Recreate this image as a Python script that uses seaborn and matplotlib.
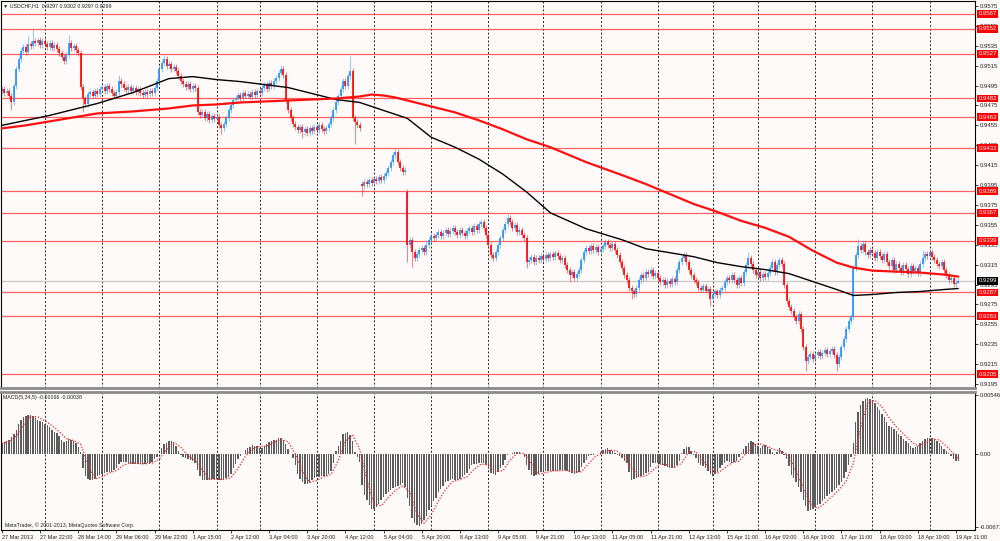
import numpy as np
import matplotlib
matplotlib.use("Agg")
import matplotlib.pyplot as plt
import matplotlib.transforms as mtransforms
import seaborn as sns

# H1 closes, in pips (9492 -> 0.9492)
close_pips = [
    9492, 9488, 9490, 9485, 9478, 9495, 9512, 9522, 9530, 9534,
    9529, 9537, 9535, 9540, 9538, 9541, 9536, 9540, 9537, 9534,
    9538, 9533, 9536, 9532, 9528, 9524, 9520, 9526, 9538, 9533,
    9535, 9531, 9528, 9494, 9482, 9476, 9487, 9489, 9485, 9490,
    9487, 9492, 9494, 9490, 9495, 9492, 9488, 9485, 9489, 9500,
    9497, 9493, 9491, 9494, 9490, 9493, 9489, 9492, 9488, 9486,
    9489, 9487, 9490, 9488, 9493, 9500, 9512, 9518, 9522, 9515,
    9517, 9512, 9514, 9510, 9505, 9500, 9497, 9494, 9497, 9492,
    9495, 9493, 9468, 9465, 9468, 9462, 9466, 9460, 9464, 9461,
    9463, 9455, 9452, 9456, 9462, 9470, 9475, 9480, 9483, 9486,
    9482, 9488, 9485, 9487, 9484, 9489, 9486, 9490, 9488, 9493,
    9496, 9492, 9498, 9495, 9500, 9503, 9508, 9512, 9506, 9480,
    9470, 9462, 9456, 9453, 9450, 9453, 9448, 9451, 9447, 9452,
    9449, 9453, 9450, 9455, 9451, 9449, 9452, 9456, 9462, 9470,
    9478, 9485, 9492, 9500, 9495, 9505, 9510, 9462, 9458, 9455,
    9452, 9394, 9398, 9396, 9400, 9397, 9401, 9399, 9403, 9400,
    9404, 9407, 9412, 9418, 9425, 9428, 9418, 9412, 9408, 9410,
    9335, 9340, 9328, 9322, 9326, 9330, 9332, 9328, 9335, 9340,
    9344, 9342, 9345, 9348, 9344, 9347, 9350, 9346, 9349, 9352,
    9348, 9345, 9350, 9347, 9344, 9349, 9352, 9348, 9354, 9350,
    9356, 9358, 9352, 9345, 9335, 9325, 9322, 9328, 9335, 9342,
    9350, 9356, 9362, 9358, 9352, 9355, 9348, 9350, 9345, 9342,
    9318, 9320, 9323, 9318, 9322, 9320, 9324, 9321, 9325, 9322,
    9326, 9323, 9327, 9324, 9320, 9322, 9315, 9310, 9305, 9308,
    9302, 9306, 9310, 9320, 9328, 9332, 9329, 9334, 9330, 9333,
    9328, 9331, 9334, 9338, 9335, 9332, 9336, 9330, 9325, 9318,
    9312, 9305, 9300, 9292, 9288, 9285, 9292, 9300, 9305, 9302,
    9308, 9306, 9310, 9304, 9307, 9302, 9298, 9300, 9295, 9299,
    9296, 9301, 9298, 9310, 9318, 9322, 9325, 9318, 9310, 9305,
    9300, 9298, 9292, 9290, 9294, 9289, 9291, 9280, 9285, 9288,
    9284, 9290, 9292, 9298, 9302, 9300, 9305, 9300, 9295, 9302,
    9297, 9308, 9315, 9322, 9316, 9310, 9305, 9308, 9302, 9306,
    9303, 9307, 9312, 9318, 9308, 9315, 9320, 9316, 9295, 9278,
    9272, 9268, 9262, 9258, 9265, 9250, 9232, 9218, 9222, 9225,
    9220, 9224, 9227, 9223, 9226, 9229, 9225, 9228, 9230, 9224,
    9215, 9222, 9232, 9240, 9250, 9258, 9262, 9312, 9325, 9334,
    9330, 9336, 9328, 9325, 9330, 9327, 9322, 9328, 9324, 9320,
    9326, 9318, 9314, 9320, 9310, 9316, 9312, 9308, 9315, 9311,
    9306, 9314, 9309, 9312, 9307, 9316, 9322, 9326, 9324, 9328,
    9323, 9320, 9316, 9314, 9318, 9310, 9305, 9300, 9302, 9296,
    9297, 9299,
]
first_open = 9490
gap_opens = {151: 9396, 170: 9388}
spike_high = {11: 9545, 13: 9552, 28: 9546, 49: 9506, 68: 9526, 117: 9516,
              146: 9525, 165: 9432, 212: 9366, 313: 9328, 359: 9341, 361: 9340,
              386: 9330, 401: 9302}
spike_low = {4: 9470, 34: 9468, 92: 9446, 126: 9442, 148: 9436, 151: 9384,
             170: 9318, 172: 9313, 220: 9312, 238: 9298, 264: 9280, 297: 9273,
             337: 9208, 350: 9208, 401: 9297}
wick = 3

# moving averages (black, red) sampled along the bars
ma_bars = [0, 10, 20, 30, 40, 55, 70, 80, 90, 100, 120, 140, 150, 155, 160, 165,
           170, 180, 190, 200, 210, 220, 230, 245, 260, 270, 280, 290, 300, 310,
           320, 330, 340, 350, 357, 365, 375, 385, 395, 401]
ma_black = [9455, 9460, 9465, 9471, 9477, 9488, 9502, 9504, 9501, 9499, 9493, 9481,
            9478, 9474, 9470, 9466, 9462, 9443, 9433, 9421, 9406, 9388, 9367, 9351,
            9340, 9331, 9327, 9323, 9317, 9313, 9310, 9306, 9298, 9290, 9284, 9285,
            9287, 9288, 9290, 9291]
ma_red = [9452, 9455, 9459, 9463, 9467, 9469, 9472, 9475, 9476, 9478, 9480, 9482,
          9484, 9486, 9485, 9483, 9480, 9474, 9468, 9460, 9451, 9441, 9433, 9418,
          9405, 9396, 9386, 9376, 9368, 9359, 9352, 9343, 9329, 9317, 9312, 9309,
          9308, 9307, 9305, 9303]

levels = [9567, 9552, 9527, 9482, 9463, 9432, 9389, 9367, 9339, 9287, 9263, 9205]
last_price = 9299

# MACD(5,34,5) main, in 1e-5
macd_e5 = [
    107, 115, 125, 135, 160, 190, 225, 275, 320, 345,
    355, 362, 360, 350, 335, 320, 308, 296, 282, 265,
    250, 222, 205, 192, 172, 130, 110, 120, 145, 135,
    125, 108, 70, 20, -129, -200, -232, -240, -238, -228,
    -205, -192, -178, -170, -166, -160, -160, -145, -125, -90,
    -75, -72, -75, -80, -86, -88, -88, -90, -90, -88,
    -88, -85, -82, -68, -48, -30, 0, 60, 92, 107,
    120, 118, 105, 80, 30, -10, -25, -35, -42, -52,
    -62, -85, -150, -200, -238, -240, -242, -238, -230, -226,
    -224, -240, -242, -235, -222, -210, -180, -130, -90, -45,
    -15, 5, 40, 55, 68, 85, 80, 72, 55, 62,
    78, 97, 114, 125, 130, 132, 150, 150, 132, 95,
    50, 5, -35, -100, -180, -225, -256, -275, -278, -262,
    -240, -222, -208, -207, -202, -200, -198, -180, -155, -80,
    30, 80, 120, 185, 200, 205, 180, 125, 20, -30,
    -70, -280, -380, -420, -470, -505, -505, -488, -460, -425,
    -395, -365, -345, -328, -315, -305, -290, -282, -270, -300,
    -400, -480, -590, -630, -650, -662, -640, -605, -570, -515,
    -465, -430, -400, -350, -320, -295, -260, -245, -236, -228,
    -235, -236, -228, -210, -190, -175, -132, -100, -94, -90,
    -84, -82, -85, -97, -140, -170, -185, -192, -165, -130,
    -95, -50, -10, 6, 13, 17, 19, 22, 5, -30,
    -97, -150, -195, -205, -192, -178, -162, -158, -155, -154,
    -154, -154, -153, -152, -148, -144, -150, -156, -160, -172,
    -185, -175, -160, -120, -82, -50, -20, -10, -4, 0,
    5, 20, 35, 48, 53, 40, 28, 12, -3, -20,
    -35, -60, -82, -160, -238, -230, -223, -207, -200, -192,
    -176, -160, -120, -85, -82, -82, -88, -95, -105, -118,
    -129, -130, -128, -100, -66, 10, 45, 66, 66, 30,
    -10, -35, -80, -95, -110, -130, -155, -180, -198, -180,
    -160, -130, -97, -80, -66, -72, -82, -75, -66, -30,
    13, 45, 75, 100, 122, 112, 97, 80, 60, 72,
    85, 65, 44, 20, -3, 25, 53, 30, -3, -40,
    -110, -192, -220, -254, -300, -348, -420, -474, -521, -515,
    -508, -490, -470, -458, -435, -411, -388, -364, -348, -333,
    -310, -286, -255, -223, -160, -97, -30, 100, 300, 390,
    452, 490, 510, 518, 508, 490, 470, 440, 405, 372,
    339, 300, 264, 250, 235, 212, 188, 165, 141, 122,
    104, 80, 56, 65, 75, 100, 122, 137, 151, 151,
    151, 137, 122, 100, 75, 50, 30, 15, -15, -45,
    -60, -66,
]
# signal line, read every third bar (last point = last bar)
signal_e5 = [
    100, 115, 167, 271, 348, 345, 308, 263, 208, 145,
    127, 92, -94, -228, -208, -173, -151, -101, -78, -86,
    -89, -82, -46, 46, 108, 65, -16, -55, -147, -232,
    -232, -233, -218, -131, -21, 51, 72, 73, 109, 137,
    115, 3, -159, -259, -242, -208, -187, -61, 123, 179,
    45, -236, -456, -477, -398, -332, -292, -346, -550, -637,
    -559, -432, -325, -253, -233, -208, -138, -90, -98, -157,
    -153, -56, 9, 7, -93, -184, -169, -155, -152, -150,
    -165, -162, -86, -17, 11, 39, 26, -21, -115, -212,
    -200, -147, -91, -98, -122, -83, 24, 23, -66, -134,
    -175, -129, -79, -65, 7, 91, 94, 72, 42, 25,
    -14, -163, -308, -456, -501, -453, -389, -328, -247, -82,
    242, 472, 499, 435, 336, 252, 188, 122, 76, 100,
    142, 132, 75, 7, -38,
]

day_starts = [18, 42, 66, 90, 108, 132, 156, 180, 204, 227, 251, 275, 298, 317,
              341, 365, 389]
time_labels = ["27 Mar 2013", "27 Mar 22:00", "28 Mar 14:00", "29 Mar 06:00",
               "29 Mar 22:00", "1 Apr 15:00", "2 Apr 12:00", "3 Apr 04:00",
               "3 Apr 20:00", "4 Apr 12:00", "5 Apr 04:00", "5 Apr 20:00",
               "8 Apr 13:00", "9 Apr 05:00", "9 Apr 21:00", "10 Apr 13:00",
               "11 Apr 05:00", "11 Apr 21:00", "12 Apr 13:00", "15 Apr 11:00",
               "16 Apr 03:00", "16 Apr 19:00", "17 Apr 11:00", "18 Apr 03:00",
               "18 Apr 19:00", "19 Apr 11:00"]
label_every = 16
price_ticks = [9195, 9215, 9235, 9255, 9275, 9295, 9315, 9335, 9355, 9375, 9395,
               9415, 9435, 9455, 9475, 9495, 9515, 9535, 9555, 9575]

# ---- build candles
close = np.array(close_pips, dtype=float)
opens = np.r_[first_open, close[:-1]]
for k, v in gap_opens.items():
    opens[k] = v
high = np.maximum(opens, close) + wick
low = np.minimum(opens, close) - wick
for k, v in spike_high.items():
    high[k] = v
for k, v in spike_low.items():
    low[k] = v
o, c, h, l = opens / 1e4, close / 1e4, high / 1e4, low / 1e4
x = np.arange(len(close))
up = c >= o

bg = "#fffafa"
sns.set_theme(style="white")
plt.rcParams["font.family"] = ["Liberation Sans", "DejaVu Sans"]

fig = plt.figure(figsize=(10, 5.41), dpi=100)
fig.patch.set_facecolor(bg)
ax = fig.add_axes([0.001, 1 - 388 / 541, 0.974, 387 / 541])
ax2 = fig.add_axes([0.001, 1 - 530 / 541, 0.974, 138 / 541])
for a in (ax, ax2):
    a.set_facecolor(bg)
    for d in day_starts:
        a.axvline(d, color="#222222", lw=0.7, ls=(0, (2, 2)), zorder=0.5)

# levels
for lv in levels:
    ax.axhline(lv / 1e4, color="#ff3b3b", lw=0.9, alpha=0.8, zorder=1)
ax.axhline(last_price / 1e4, color="#c8c8c8", lw=0.9, zorder=1)

# candles
blue, red = "#1e90ff", "#ff0000"
ax.vlines(x[up], l[up], h[up], color=blue, lw=0.7, alpha=0.5, zorder=2)
ax.vlines(x[~up], l[~up], h[~up], color=red, lw=0.7, alpha=0.5, zorder=2)
ax.vlines(x[up], o[up], c[up], color=blue, lw=1.2, zorder=2.2)
ax.vlines(x[~up], o[~up], c[~up], color=red, lw=1.2, zorder=2.2)

# moving averages
sns.lineplot(x=ma_bars, y=np.array(ma_black) / 1e4, color="black", lw=1.0, ax=ax, zorder=3)
sns.lineplot(x=ma_bars, y=np.array(ma_red) / 1e4, color="#ff1010", lw=1.6, ax=ax, zorder=3)

# MACD
macd = np.array(macd_e5) / 1e5
sns.barplot(x=np.arange(len(macd)), y=macd, native_scale=True, color="#5c5c5c",
            width=0.6, errorbar=None, linewidth=0, saturation=1, ax=ax2, zorder=2)
sig_x = np.minimum(np.arange(len(signal_e5)) * 3, len(macd) - 1)
sns.lineplot(x=sig_x, y=np.array(signal_e5) / 1e5, color="#ff2020", lw=0.9,
             linestyle=(0, (1, 1.4)), ax=ax2, zorder=3)

# axes ranges
xlim = (-0.4, 408)
ax.set_xlim(*xlim)
ax2.set_xlim(*xlim)
ax.set_ylim(0.91910, 0.95800)
ax2.set_ylim(-0.00699, 0.00574)
for a in (ax, ax2):
    a.set_xlabel("")
    a.set_ylabel("")
    a.grid(False)

# price axis ticks
ax.yaxis.tick_right()
ax.set_yticks(np.array(price_ticks) / 1e4)
ax.set_yticklabels([f"{p / 1e4:.4f}" for p in price_ticks])
ax.tick_params(axis="y", labelsize=4.3, length=2, width=0.6, pad=1.5,
               colors="#202020", right=True)
ax.tick_params(axis="x", bottom=False, labelbottom=False)

# MACD axis ticks
ax2.yaxis.tick_right()
ax2.set_yticks([0.00546, 0.0, -0.00671])
ax2.set_yticklabels(["0.00546", "0.00", "-0.00671"])
ax2.tick_params(axis="y", labelsize=4.2, length=2, width=0.6, pad=1.5,
                colors="#202020", right=True)
tick_pos = np.arange(len(time_labels)) * label_every
ax2.set_xticks(tick_pos)
ax2.set_xticklabels(time_labels, ha="left")
ax2.tick_params(axis="x", labelsize=4.0, length=2, width=0.6, pad=1.5,
                colors="#202020", bottom=True)

for a in (ax, ax2):
    for s in a.spines.values():
        s.set_color("black")
        s.set_linewidth(0.8)
ax.spines["bottom"].set_color("#8a8a8a")
ax.spines["bottom"].set_linewidth(2.0)
ax2.spines["top"].set_color("#8a8a8a")
ax2.spines["top"].set_linewidth(2.0)

# boxed price labels on the right
trans = mtransforms.blended_transform_factory(ax.transAxes, ax.transData)
for lv in levels:
    ax.text(1.0035, lv / 1e4, f"{lv / 1e4:.4f}", transform=trans, ha="left",
            va="center", fontsize=4.3, color="white", clip_on=False, zorder=6,
            bbox=dict(boxstyle="square,pad=0.25", fc="#ff0000", ec="none"))
ax.text(1.0035, last_price / 1e4, f"{last_price / 1e4:.4f}", transform=trans,
        ha="left", va="center", fontsize=4.3, color="white", clip_on=False, zorder=7,
        bbox=dict(boxstyle="square,pad=0.25", fc="black", ec="none"))

# captions
ax.text(0.002, 0.987, "▼ USDCHF,H1  0.9297 0.9302 0.9297 0.9299", transform=ax.transAxes,
        ha="left", va="center", fontsize=3.8, color="#202020", zorder=6)
ax2.text(0.002, 0.962, "MACD(5,34,5) -0.00066 -0.00038", transform=ax2.transAxes,
         ha="left", va="center", fontsize=3.8, color="#202020", zorder=6)
ax2.text(0.004, 0.035, "MetaTrader, © 2001-2013, MetaQuotes Software Corp.",
         transform=ax2.transAxes, ha="left", va="center", fontsize=3.8,
         color="#202020", zorder=6)

fig.savefig("out.png", dpi=100, facecolor=bg)
